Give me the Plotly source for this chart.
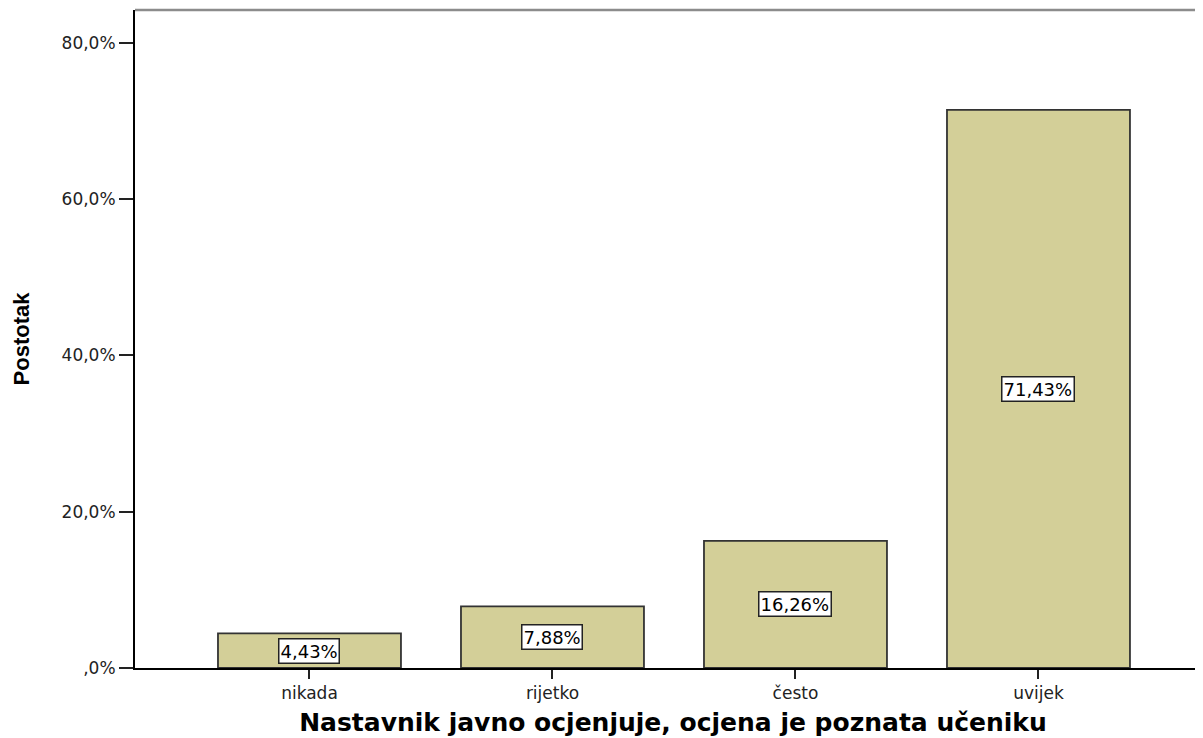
import plotly.graph_objects as go

categories = ["nikada", "rijetko", "često", "uvijek"]
percent = [4.43, 7.88, 16.26, 71.43]
y_ticks = [0, 20, 40, 60, 80]
y_tick_labels = [",0%", "20,0%", "40,0%", "60,0%", "80,0%"]

fig = go.Figure()

fig.add_trace(go.Bar(
    x=list(range(len(categories))),
    y=percent,
    width=0.753,
    marker=dict(color="#d3cf98", line=dict(color="#333333", width=1.8)),
    hoverinfo="skip",
))

# value boxes in the middle of each bar
for i, v in enumerate(percent):
    fig.add_annotation(
        x=i, y=v / 2,
        text=f"{v:.2f}%".replace(".", ","),
        showarrow=False,
        font=dict(family="DejaVu Sans", size=18, color="black"),
        bgcolor="white",
        bordercolor="#222222",
        borderwidth=1.5,
        borderpad=1,
    )

# grey frame line along the top
fig.add_shape(type="line", xref="paper", yref="paper", x0=0, x1=1, y0=1, y1=1,
              line=dict(color="#8c8c8c", width=2.5))

fig.update_layout(
    width=1203,
    height=738,
    margin=dict(l=127, r=0, t=2, b=78),
    plot_bgcolor="white",
    paper_bgcolor="white",
    showlegend=False,
    font=dict(family="DejaVu Sans", size=17, color="#222222"),
)

fig.update_xaxes(
    range=[-0.718, 3.71],
    tickmode="array",
    tickvals=list(range(len(categories))),
    ticktext=categories,
    ticks="outside",
    ticklen=9,
    tickwidth=2,
    tickcolor="#222222",
    showline=True,
    linecolor="black",
    linewidth=1.5,
    showgrid=False,
    zeroline=False,
    tickfont=dict(family="DejaVu Sans", size=17),
    title=dict(text="Nastavnik javno ocjenjuje, ocjena je poznata učeniku",
               font=dict(family="DejaVu Sans", size=25, color="black", weight="bold"),
               standoff=11),
)

fig.update_yaxes(
    range=[0, 84.2],
    tickmode="array",
    tickvals=y_ticks,
    ticktext=y_tick_labels,
    ticks="outside",
    ticklen=14,
    tickwidth=2,
    tickcolor="#222222",
    showline=True,
    linecolor="black",
    linewidth=2,
    showgrid=False,
    zeroline=False,
    tickfont=dict(family="DejaVu Sans", size=17),
    title=dict(text="Postotak",
               font=dict(family="Liberation Sans", size=22, color="black", weight="bold"),
               standoff=26),
)

fig.write_html("out.html")
